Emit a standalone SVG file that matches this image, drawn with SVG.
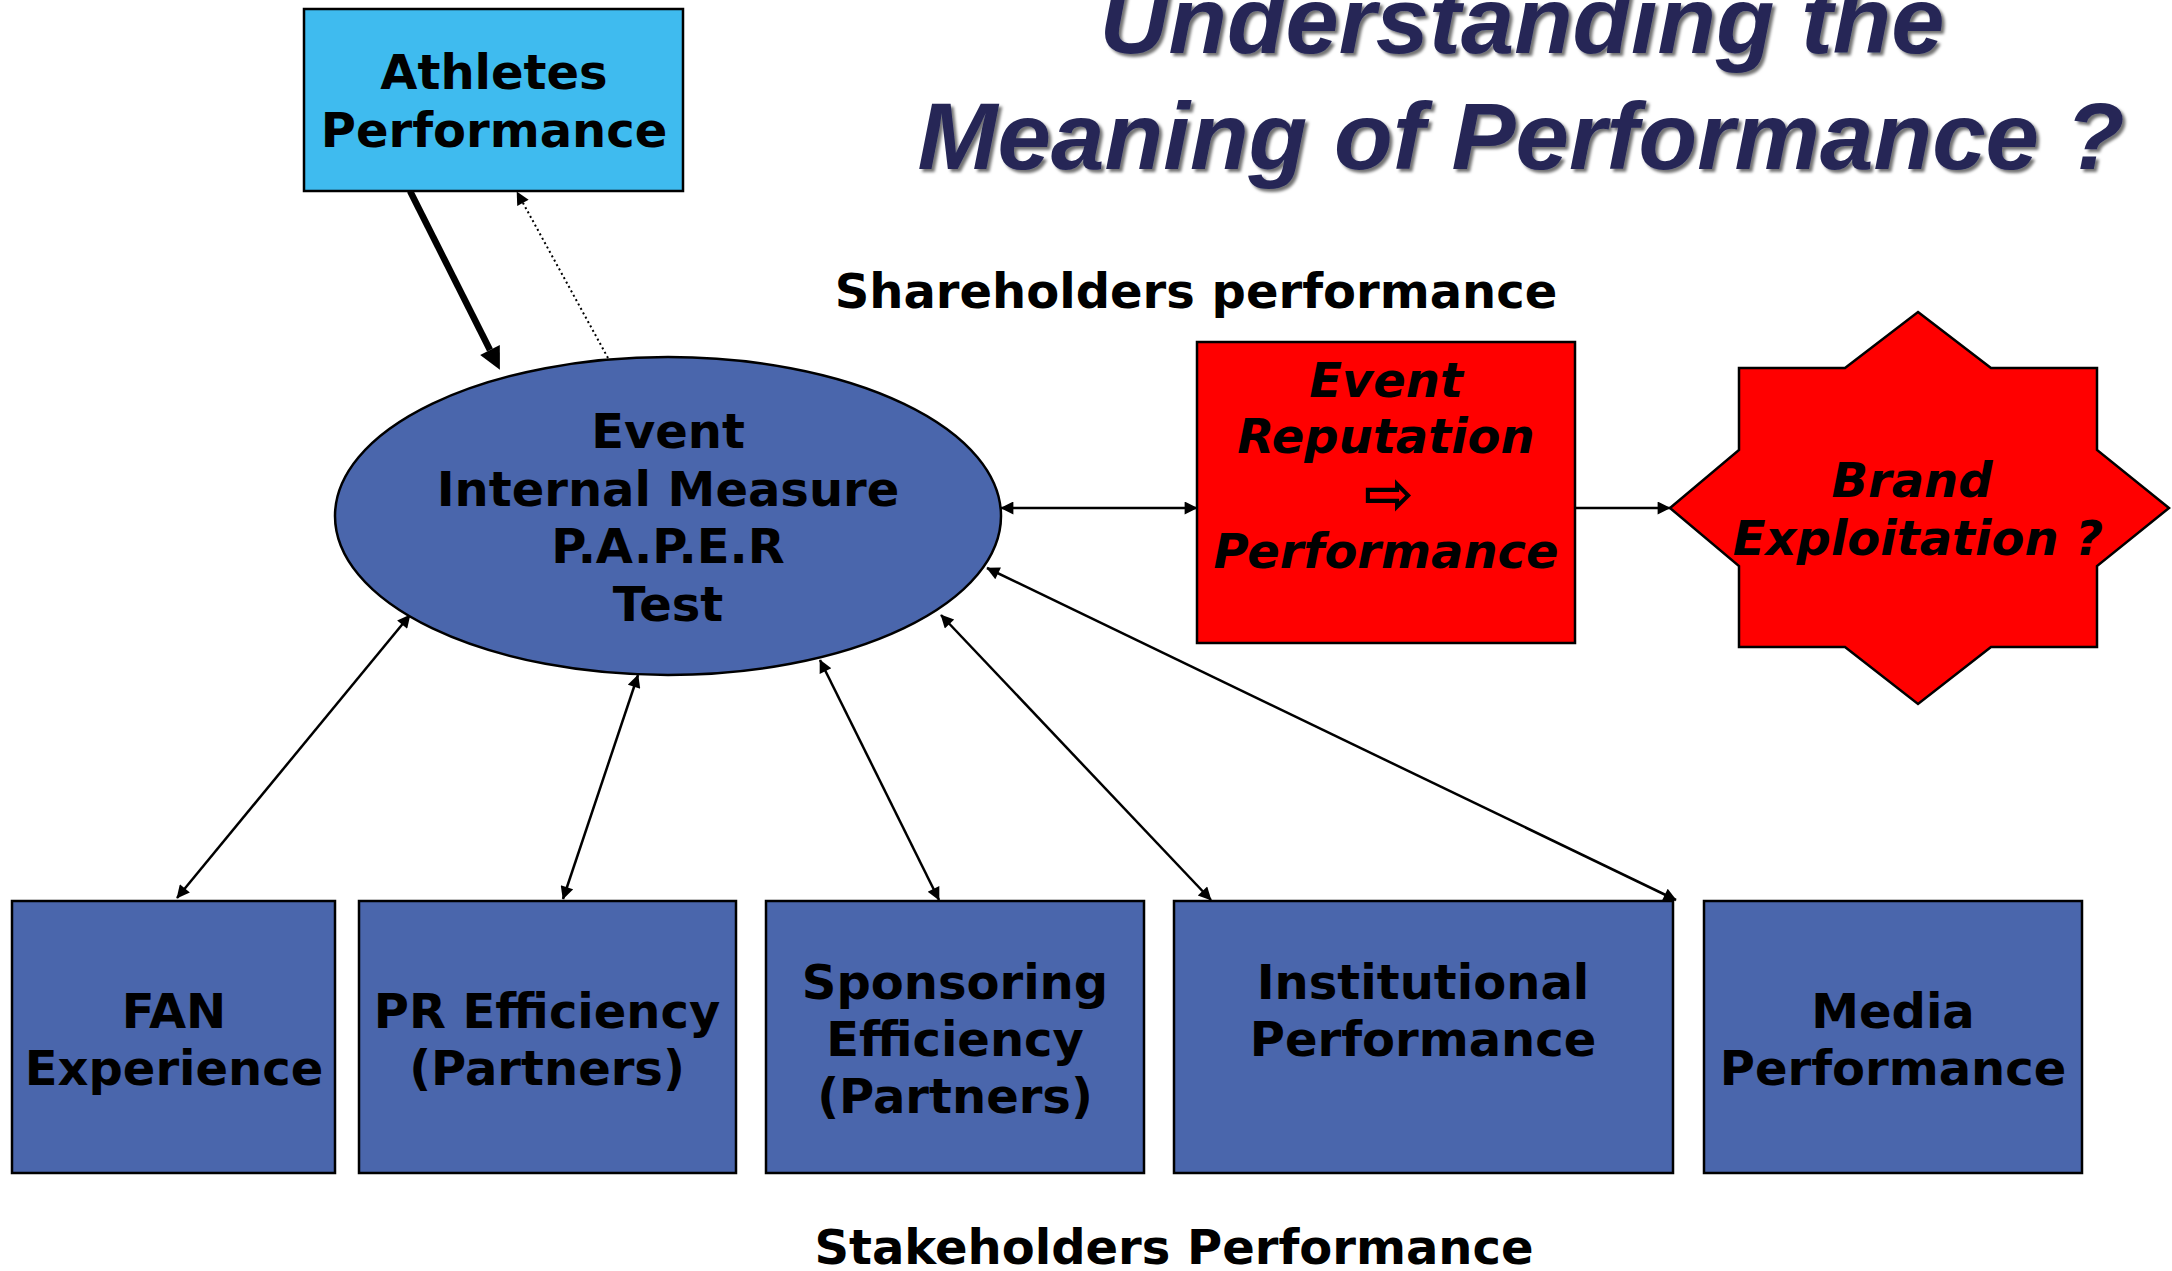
<svg xmlns="http://www.w3.org/2000/svg" width="2172" height="1271" viewBox="0 0 2172 1271">
<style>
.lbl{font-family:"DejaVu Sans","Verdana",sans-serif;font-weight:bold;font-size:48px;fill:#000;text-anchor:middle}
.it{font-style:italic}
.blue{fill:#4A66AC;stroke:#000;stroke-width:2.5}
.red{fill:#FF0000;stroke:#000;stroke-width:2.5}
.con{fill:none;stroke:#000;stroke-width:2.5}
.title{font-family:"Liberation Sans",Arial,sans-serif;font-weight:bold;font-style:italic;font-size:95px;fill:#262857;text-anchor:middle}
</style>
<defs>
<marker id="ah" viewBox="0 0 10 10" refX="9.5" refY="5" markerWidth="16" markerHeight="13" markerUnits="userSpaceOnUse" orient="auto-start-reverse">
<path d="M0,0 L10,5 L0,10 z" fill="#000"/>
</marker>
<marker id="ahBig" viewBox="0 0 10 10" refX="0" refY="5" markerWidth="24" markerHeight="22" markerUnits="userSpaceOnUse" orient="auto">
<path d="M0,0 L10,5 L0,10 z" fill="#000"/>
</marker>
<filter id="shadow" x="-5%" y="-20%" width="110%" height="140%">
<feDropShadow dx="3" dy="3" stdDeviation="1.5" flood-color="#000" flood-opacity="0.55"/>
</filter>
</defs>
<rect width="2172" height="1271" fill="#fff"/>

<g id="title" filter="url(#shadow)">
<text class="title" x="1522" y="53" textLength="845" lengthAdjust="spacingAndGlyphs">Understanding the</text>
<text class="title" x="1521" y="169" textLength="1207" lengthAdjust="spacingAndGlyphs">Meaning of Performance ?</text>
</g>

<g id="connectors">
<line x1="410" y1="191" x2="490" y2="350" stroke="#000" stroke-width="6.5" marker-end="url(#ahBig)"/>
<line x1="608" y1="358" x2="517" y2="192" stroke="#000" stroke-width="2" stroke-dasharray="2 3" marker-end="url(#ah)"/>
<line class="con" x1="1001" y1="508" x2="1197" y2="508" marker-start="url(#ah)" marker-end="url(#ah)"/>
<line class="con" x1="1575" y1="508" x2="1670" y2="508" marker-end="url(#ah)"/>
<line class="con" x1="410" y1="615" x2="177" y2="898" marker-start="url(#ah)" marker-end="url(#ah)"/>
<line class="con" x1="638" y1="675" x2="563" y2="899" marker-start="url(#ah)" marker-end="url(#ah)"/>
<line class="con" x1="820" y1="660" x2="939" y2="900" marker-start="url(#ah)" marker-end="url(#ah)"/>
<line class="con" x1="941" y1="615" x2="1211" y2="900" marker-start="url(#ah)" marker-end="url(#ah)"/>
<line class="con" x1="987" y1="568" x2="1676" y2="900" marker-start="url(#ah)" marker-end="url(#ah)"/>
</g>

<g id="athletes">
<rect x="304" y="9" width="379" height="182" fill="#3FBBEF" stroke="#000" stroke-width="2.5"/>
<text class="lbl" x="494" y="89">Athletes</text>
<text class="lbl" x="494" y="147">Performance</text>
</g>

<g id="event">
<ellipse cx="668" cy="516" rx="333" ry="159" class="blue"/>
<text class="lbl" x="668" y="448">Event</text>
<text class="lbl" x="668" y="506">Internal Measure</text>
<text class="lbl" x="668" y="563">P.A.P.E.R</text>
<text class="lbl" x="668" y="621">Test</text>
</g>

<g id="shareholders">
<text class="lbl" x="1196" y="308">Shareholders performance</text>
</g>

<g id="reputation">
<rect x="1197" y="342" width="378" height="301" class="red"/>
<text class="lbl it" x="1386" y="397">Event</text>
<text class="lbl it" x="1386" y="453">Reputation</text>
<text x="1389" y="514" style="font-family:'DejaVu Sans',sans-serif;font-weight:bold;font-size:60px;text-anchor:middle;fill:#000">⇨</text>
<text class="lbl it" x="1386" y="568">Performance</text>
</g>

<g id="brand">
<polygon class="red" points="1918,312 1991,368 2097,368 2097,450 2169,508 2097,566 2097,647 1991,647 1918,704 1845,647 1739,647 1739,566 1670,508 1739,450 1739,368 1845,368"/>
<text class="lbl it" x="1912" y="497">Brand</text>
<text class="lbl it" x="1918" y="555">Exploitation ?</text>
</g>

<g id="fan">
<rect x="12" y="901" width="323" height="272" class="blue"/>
<text class="lbl" x="174" y="1028">FAN</text>
<text class="lbl" x="174" y="1085">Experience</text>
</g>

<g id="pr">
<rect x="359" y="901" width="377" height="272" class="blue"/>
<text class="lbl" x="547" y="1028">PR Efficiency</text>
<text class="lbl" x="547" y="1085">(Partners)</text>
</g>

<g id="sponsoring">
<rect x="766" y="901" width="378" height="272" class="blue"/>
<text class="lbl" x="955" y="999">Sponsoring</text>
<text class="lbl" x="955" y="1056">Efficiency</text>
<text class="lbl" x="955" y="1113">(Partners)</text>
</g>

<g id="institutional">
<rect x="1174" y="901" width="499" height="272" class="blue"/>
<text class="lbl" x="1423" y="999">Institutional</text>
<text class="lbl" x="1423" y="1056">Performance</text>
</g>

<g id="media">
<rect x="1704" y="901" width="378" height="272" class="blue"/>
<text class="lbl" x="1893" y="1028">Media</text>
<text class="lbl" x="1893" y="1085">Performance</text>
</g>

<g id="stakeholders">
<text class="lbl" x="1174" y="1264">Stakeholders Performance</text>
</g>
</svg>
